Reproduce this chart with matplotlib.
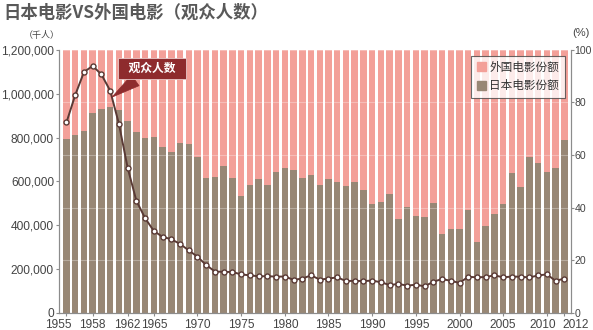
import matplotlib
matplotlib.use("Agg")
import matplotlib.pyplot as plt
import matplotlib.transforms as mtransforms
from matplotlib.patches import Patch
from matplotlib.ticker import FuncFormatter
import numpy as np

plt.rcParams["font.family"] = ["Liberation Sans", "Noto Sans CJK SC"]

# ── Data ────────────────────────────────────────────────────────────
years = np.arange(1955, 2013)

# share of domestic (Japanese) films, %
japan_share = [
    66.0, 67.6, 69.1, 76.1, 77.4, 78.4, 77.1, 73.1, 68.8, 66.3,
    66.7, 63.2, 61.3, 64.5, 64.2, 59.4, 51.1, 51.7, 55.9, 51.2,
    44.4, 48.4, 50.7, 48.6, 53.5, 55.0, 54.4, 51.1, 52.5, 48.6,
    50.9, 49.8, 48.1, 49.7, 46.7, 41.3, 42.0, 45.1, 35.6, 40.1,
    36.9, 36.3, 41.6, 30.0, 31.9, 31.8, 39.0, 27.0, 33.0, 37.4,
    41.2, 53.3, 47.7, 59.4, 57.0, 53.6, 54.9, 65.7,
]

# cinema attendance, thousands of people
attendance = [
    868900, 993900, 1098900, 1127500, 1088100, 1014400, 863400, 662300, 511100, 431500,
    372700, 345800, 335100, 313400, 284000, 254800, 216800, 187400, 185700, 185300,
    174000, 170000, 165400, 166000, 164000, 164400, 149500, 155100, 170000, 150500,
    155100, 160800, 143900, 144800, 143600, 146000, 138300, 125600, 130700, 123000,
    127000, 119600, 140700, 153100, 144800, 135400, 163300, 160800, 162300, 170100,
    160500, 164600, 163200, 160500, 169300, 174400, 144700, 155200,
]

year_ticks = [1955, 1958, 1962, 1965, 1970, 1975, 1980, 1985, 1990,
              1995, 2000, 2005, 2010, 2012]

foreign_share = [100 - s for s in japan_share]

# ── Style ───────────────────────────────────────────────────────────
PINK = "#f3a099"
BROWN = "#988775"
LINE = "#5a3a35"
CALLOUT = "#8e2b2d"
AXIS = "#8c8c8c"
TEXT = "#444444"

fig = plt.figure(figsize=(5.93, 3.30), dpi=100)
fig.patch.set_facecolor("white")

ax2 = fig.add_axes([0.1003, 0.053, 0.8621, 0.7955])  # share bars, right scale
ax = ax2.twinx()                                       # attendance line, left scale
ax.yaxis.tick_left()
ax.yaxis.set_label_position("left")
ax2.yaxis.tick_right()
ax.set_zorder(ax2.get_zorder() + 1)
ax.patch.set_visible(False)

# stacked 100% bars
ax2.bar(years, japan_share, width=0.74, color=BROWN, zorder=2)
ax2.bar(years, foreign_share, bottom=japan_share, width=0.74, color=PINK, zorder=2)
ax2.set_ylim(0, 100)
ax2.set_yticks(range(0, 101, 20))
ax2.set_xlim(1955 - 0.8, 2012 + 0.73)
ax2.set_axisbelow(False)
ax2.yaxis.grid(True, color="white", alpha=0.3, linewidth=0.8)
ax2.xaxis.grid(False)

# attendance line
ax.plot(years, attendance, color=LINE, linewidth=1.4, marker="o", markersize=3.6,
        markerfacecolor="white", markeredgecolor=LINE, markeredgewidth=1.0, zorder=3)
ax.set_ylim(0, 1200000)
ax.set_yticks(range(0, 1200001, 200000))
ax.yaxis.set_major_formatter(FuncFormatter(lambda v, _: f"{int(v):,}"))
ax.set_xlim(ax2.get_xlim())

for a in (ax, ax2):
    a.spines["top"].set_visible(False)
    for side in ("left", "right", "bottom"):
        a.spines[side].set_color(AXIS)
        a.spines[side].set_linewidth(0.8)
    a.tick_params(colors=AXIS, labelcolor=TEXT, length=2.5, width=0.8,
                  labelsize=8.6, pad=1.5)
ax2.tick_params(axis="y", labelsize=7.6, length=2, pad=0.8)

ax2.set_xticks(year_ticks)
ax2.set_xticklabels([str(y) for y in year_ticks])
ax2.tick_params(axis="x", pad=2)
ax.tick_params(axis="x", bottom=False, labelbottom=False)

# nudge crowded end labels apart
shifts = {1955: -8.5, 2010: -4, 2012: 11}
for lbl, y in zip(ax2.get_xticklabels(), year_ticks):
    if y in shifts:
        off = mtransforms.ScaledTranslation(shifts[y] / 100, 0, fig.dpi_scale_trans)
        lbl.set_transform(lbl.get_transform() + off)

# callout on the attendance line
tip_year = 1960.2
tip_val = np.interp(tip_year, years, attendance)
ax.annotate("  观众人数  ", xy=(tip_year, tip_val), xytext=(1964.8, 1116000),
            ha="center", va="center", color="white", fontsize=8.5, fontweight="bold",
            bbox=dict(boxstyle="square,pad=0.35", fc=CALLOUT, ec="#e8c8c8", lw=0.6),
            arrowprops=dict(arrowstyle="wedge,tail_width=1.1,shrink_factor=0.5",
                            fc=CALLOUT, ec=CALLOUT, lw=0.5, shrinkB=0),
            zorder=5)

leg = ax.legend(handles=[Patch(color=PINK, label="外国电影份额"),
                         Patch(color=BROWN, label="日本电影份额")],
                loc="upper right", bbox_to_anchor=(0.989, 0.977), borderaxespad=0,
                fontsize=8.4, frameon=True, fancybox=False, handlelength=0.8,
                handleheight=0.8, handletextpad=0.3, borderpad=0.5, labelspacing=0.55)
leg.get_frame().set_edgecolor("#444444")
leg.get_frame().set_linewidth(0.8)
for t in leg.get_texts():
    t.set_color("#333333")

fig.text(0.005, 0.962, "日本电影VS外国电影（观众人数）", fontsize=12.5, fontweight="bold",
         color="#595959", ha="left", va="center", family=["Noto Sans CJK SC"])
fig.text(0.071, 0.893, "（千人）", fontsize=6.5, color=TEXT, ha="center", va="center",
         family=["Noto Sans CJK SC"])
fig.text(0.98, 0.9, "(%)", fontsize=8, color=TEXT, ha="center", va="center")

fig.savefig("out.png", dpi=100)
